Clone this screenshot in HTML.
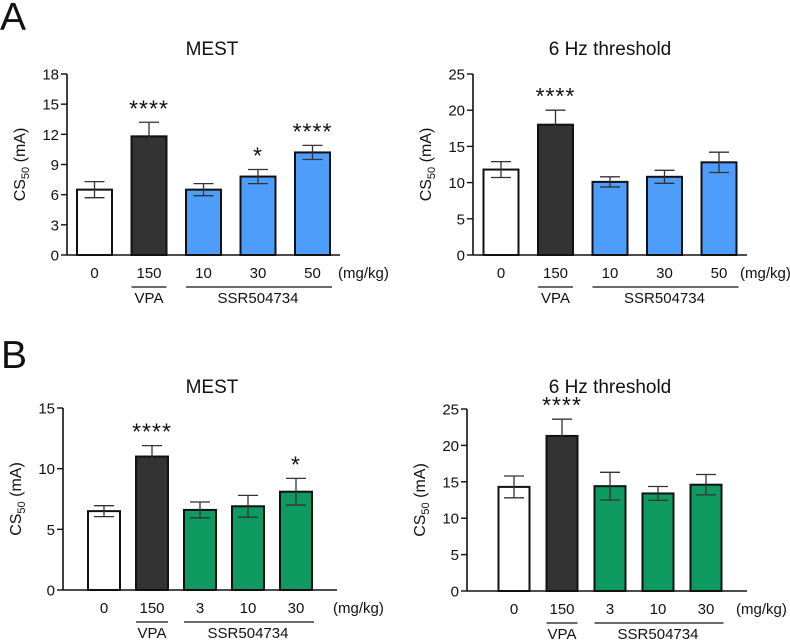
<!DOCTYPE html>
<html><head><meta charset="utf-8"><style>
html,body{margin:0;padding:0;background:#fff;}
svg{display:block;font-family:"Liberation Sans",Arial,sans-serif;}
</style></head><body>
<svg id="fig" width="790" height="640" viewBox="0 0 790 640"></svg>
<script>
const categoriesA = ["0","150","10","30","50"];
const categoriesB = ["0","150","3","10","30"];
const meanAL = [6.5, 11.8, 6.5, 7.8, 10.2];
const errAL  = [0.8, 1.4, 0.6, 0.7, 0.7];
const starsAL = ["", "****", "", "*", "****"];
const meanAR = [11.8, 18.0, 10.1, 10.8, 12.8];
const errAR  = [1.1, 2.0, 0.7, 0.9, 1.4];
const starsAR = ["", "****", "", "", ""];
const meanBL = [6.5, 11.0, 6.6, 6.9, 8.1];
const errBL  = [0.45, 0.9, 0.65, 0.9, 1.1];
const starsBL = ["", "****", "", "", "*"];
const meanBR = [14.3, 21.3, 14.4, 13.4, 14.6];
const errBR  = [1.5, 2.3, 1.9, 0.95, 1.4];
const starsBR = ["", "****", "", "", ""];
const ticksAL = [0,3,6,9,12,15,18];
const ticksAR = [0,5,10,15,20,25];
const ticksBL = [0,5,10,15];
const ticksBR = [0,5,10,15,20,25];

const NS="http://www.w3.org/2000/svg";
const svg=document.getElementById('fig');
function el(tag,attrs,parent,text){const e=document.createElementNS(NS,tag);for(const k in attrs)e.setAttribute(k,attrs[k]);if(text!==undefined)e.textContent=text;(parent||svg).appendChild(e);return e;}

function panel(cfg){
  const g=el('g',{});
  
  
  const ymax=cfg.ticks[cfg.ticks.length-1];
  const y=v=>cfg.y0-(v/ymax)*(cfg.y0-cfg.yTop);
  const x=i=>cfg.c0+i*cfg.step;
  const t=el('text',{x:cfg.titleX,y:cfg.titleY,'text-anchor':'middle','font-size':19,fill:'#111'},g,cfg.title);
  
  
  const ya=el('line',{x1:cfg.ax,y1:cfg.yTop,x2:cfg.ax,y2:cfg.y0,stroke:'#111','stroke-width':1.6},g);
  
  
  const xa=el('line',{x1:cfg.ax,y1:cfg.y0,x2:cfg.axEnd,y2:cfg.y0,stroke:'#111','stroke-width':1.6},g);
  
  
  cfg.ticks.forEach(v=>{
    const tl=el('line',{x1:cfg.ax-6,y1:y(v),x2:cfg.ax,y2:y(v),stroke:'#111','stroke-width':1.4},g);
    
    
    const tx=el('text',{x:cfg.ax-8,y:y(v)+5.5,'text-anchor':'end','font-size':15,fill:'#111'},g,String(v));
    
    
  });
  const yt=el('text',{transform:`translate(${cfg.ax-42},${(cfg.yTop+cfg.y0)/2}) rotate(-90)`,'text-anchor':'middle','font-size':16,fill:'#111'},g);
  
  
  el('tspan',{},yt,'CS');
  el('tspan',{'font-size':11,dy:4},yt,'50');
  el('tspan',{dy:-4},yt,' (mA)');
  const hw=cfg.bw/2;
  cfg.means.forEach((m,i)=>{
    const cx=x(i);
    const fill=i===0?'#ffffff':(i===1?'#333333':cfg.color);
    const b=el('rect',{x:cx-hw,y:y(m),width:cfg.bw,height:cfg.y0-y(m),fill:fill,stroke:'#111','stroke-width':2},g);
    
    
    const e=cfg.errs[i];
    const p=el('path',{d:`M${cx},${y(m-e)}V${y(m+e)}M${cx-10},${y(m+e)}H${cx+10}M${cx-10},${y(m-e)}H${cx+10}`,stroke:'#333','stroke-width':1.3,fill:'none'},g);
    
    
    if(cfg.stars[i]){
      const s=el('text',{x:cx,y:y(m+e)-6,'text-anchor':'middle','font-size':23,'letter-spacing':1,fill:'#111'},g,cfg.stars[i]);
      
      
    }
    const xl=el('text',{x:cx,y:cfg.y0+23,'text-anchor':'middle','font-size':15,fill:'#111'},g,cfg.cats[i]);
    
    
  });
  const u=el('text',{x:cfg.unitX,y:cfg.y0+23,'font-size':15,fill:'#111'},g,'(mg/kg)');
  
  
  const ly=cfg.y0+32;
  const l1=el('line',{x1:x(1)-hw,y1:ly,x2:x(1)+hw,y2:ly,stroke:'#111','stroke-width':1.3},g);
  
  
  const t1=el('text',{x:x(1),y:ly+16,'text-anchor':'middle','font-size':15,fill:'#111'},g,'VPA');
  
  
  const l2=el('line',{x1:x(2)-hw,y1:ly,x2:x(4)+hw+2,y2:ly,stroke:'#111','stroke-width':1.3},g);
  
  
  const t2=el('text',{x:x(3),y:ly+16,'text-anchor':'middle','font-size':15,fill:'#111'},g,'SSR504734');
  
  
}

const la=el('text',{x:0,y:30,'font-size':39,fill:'#111'},svg,'A');


const lb=el('text',{x:1,y:368,'font-size':39,fill:'#111'},svg,'B');



const blue='#4f9dfb', green='#0f9a62';
panel({name:'panel-a-mest',title:'MEST',titleX:212,titleY:55,ax:67,axEnd:340,yTop:74,y0:255,c0:94.5,step:54.5,bw:35,ticks:ticksAL,means:meanAL,errs:errAL,stars:starsAL,cats:categoriesA,color:blue,unitX:338});
panel({name:'panel-a-6hz',title:'6 Hz threshold',titleX:610,titleY:55,ax:473,axEnd:747,yTop:74,y0:255,c0:501,step:54.5,bw:35,ticks:ticksAR,means:meanAR,errs:errAR,stars:starsAR,cats:categoriesA,color:blue,unitX:740});
panel({name:'panel-b-mest',title:'MEST',titleX:212,titleY:393,ax:63,axEnd:337,yTop:408,y0:590,c0:104,step:48,bw:32,ticks:ticksBL,means:meanBL,errs:errBL,stars:starsBL,cats:categoriesB,color:green,unitX:333});
panel({name:'panel-b-6hz',title:'6 Hz threshold',titleX:610,titleY:393,ax:467,axEnd:747,yTop:409,y0:591,c0:514,step:48,bw:31,ticks:ticksBR,means:meanBR,errs:errBR,stars:starsBR,cats:categoriesB,color:green,unitX:736});
</script>
</body></html>
